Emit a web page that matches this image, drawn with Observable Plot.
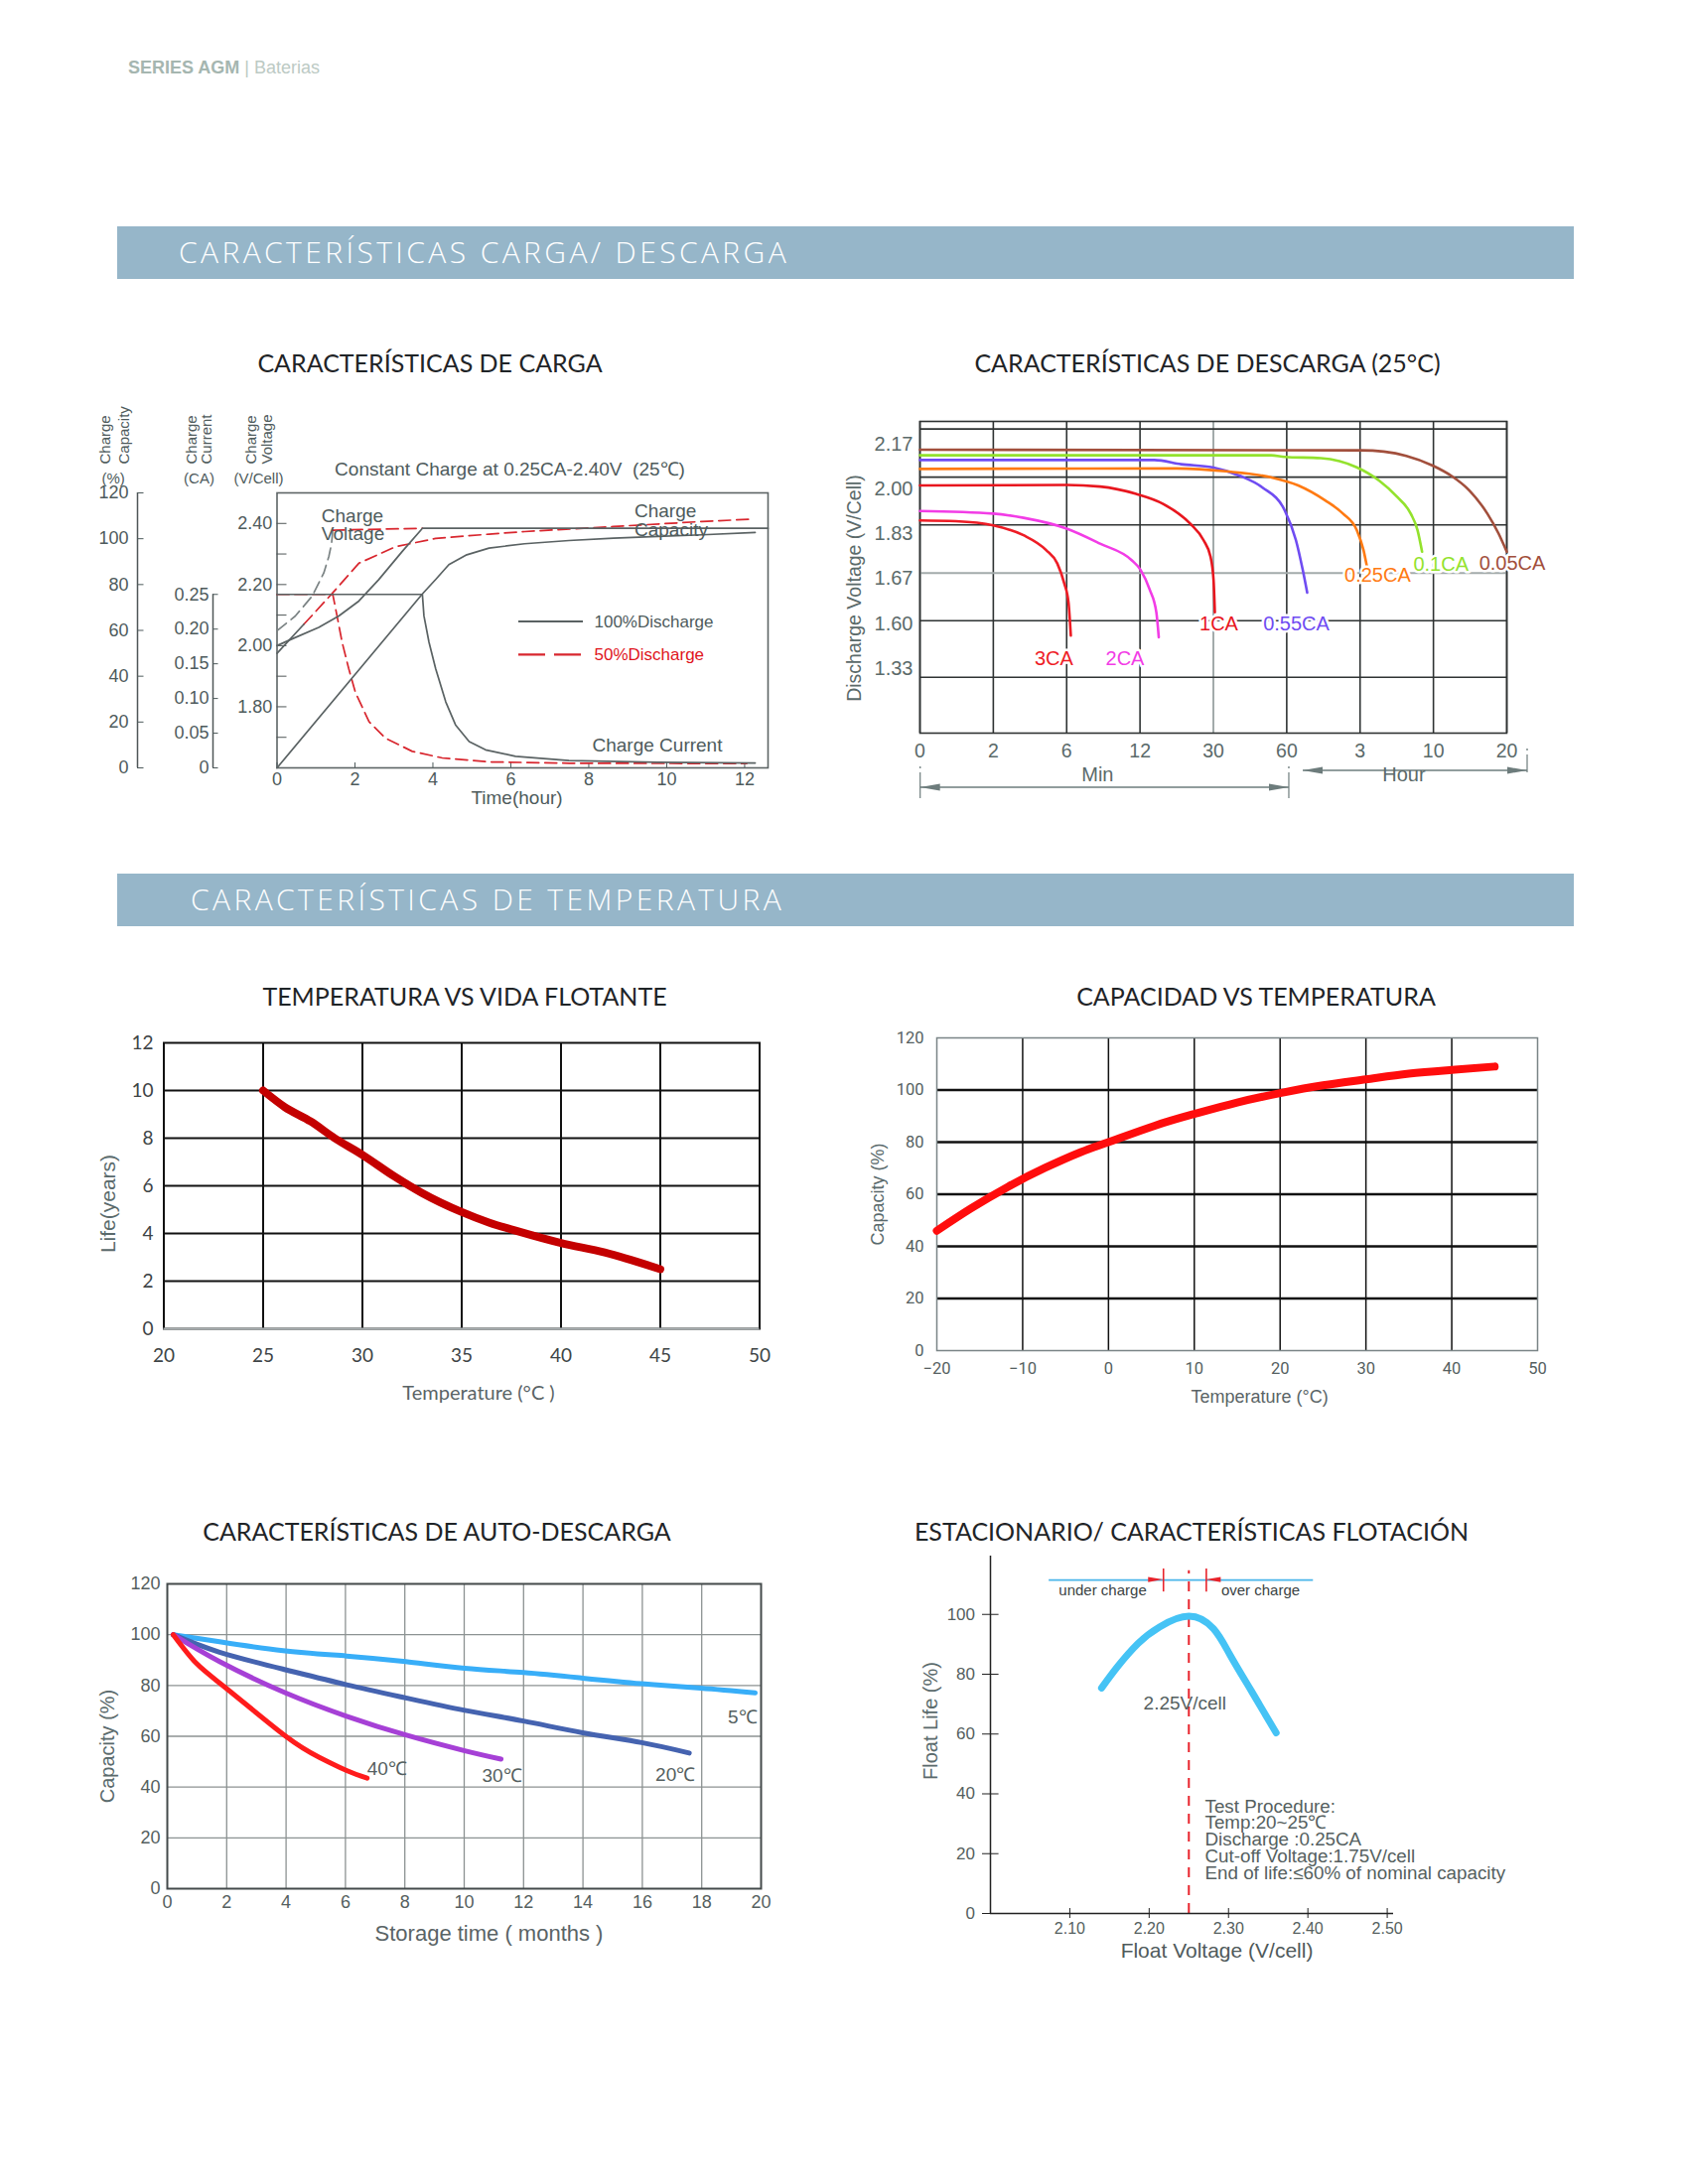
<!DOCTYPE html>
<html lang="es">
<head>
<meta charset="utf-8">
<script src="https://cdn.jsdelivr.net/npm/d3@7"></script>
<script src="https://cdn.jsdelivr.net/npm/@observablehq/plot@0.6"></script>
<style>
  html, body { margin: 0; padding: 0; background: #fff; }
  #page { position: relative; width: 1700px; height: 2200px; background: #fff; overflow: hidden; }
  .bar { position: absolute; left: 118px; width: 1467px; height: 53px; background: #96b6c9; }
</style>
</head>
<body>
<div id="page"></div>
<script>
// ======================= DATA =======================
const pageHeader = ["SERIES AGM", "| Baterias"];
const sectionHeaders = ["CARACTERÍSTICAS CARGA/ DESCARGA", "CARACTERÍSTICAS DE TEMPERATURA"];
const chartTitles = [
  "CARACTERÍSTICAS DE CARGA",
  "CARACTERÍSTICAS DE DESCARGA (25°C)",
  "TEMPERATURA VS VIDA FLOTANTE",
  "CAPACIDAD VS TEMPERATURA",
  "CARACTERÍSTICAS DE AUTO-DESCARGA",
  "ESTACIONARIO/ CARACTERÍSTICAS FLOTACIÓN"
];

// --- Charge characteristics (time in hours) ---
const chargeTimeTicks = [0, 2, 4, 6, 8, 10, 12];
const chargeTimeDomain = [0, 12.6];
const capacityTicks = [0, 20, 40, 60, 80, 100, 120];
const currentTicks = [0, 0.05, 0.10, 0.15, 0.20, 0.25];
const voltageTicks = [1.7, 1.8, 1.9, 2.0, 2.1, 2.2, 2.3, 2.4];
const voltageLabelled = [1.8, 2.0, 2.2, 2.4];
const chargeLegend = ["100%Discharge", "50%Discharge"];
const chargeNotes = ["Constant Charge at 0.25CA-2.40V\u00a0 (25℃)", "Charge", "Voltage", "Capacity", "Charge Current", "Time(hour)"];

const v100Hours = [0, 0.385, 1.07, 1.585, 2.10, 2.61, 3.21, 3.73, 12.6];
const v100Volts = [2.00, 2.022, 2.060, 2.097, 2.146, 2.216, 2.308, 2.384, 2.384];
const v50Hours  = [0, 0.47, 0.90, 1.20, 1.33, 1.40, 1.43, 3.73];
const v50Volts  = [2.049, 2.097, 2.162, 2.238, 2.292, 2.335, 2.378, 2.384];
const cap100Hours = [0, 3.73, 4.07, 4.41, 4.87, 5.44, 6.35, 7.49, 8.63, 9.77, 10.9, 12.27];
const cap100Pct   = [0, 75.9, 82.2, 88.7, 93.0, 95.9, 97.8, 99.2, 100.2, 101.0, 101.7, 102.7];
const cap50Hours  = [0, 0.69, 1.0, 1.43, 2.10, 3.04, 4.07, 5.44, 6.35, 8.63, 10.9, 12.16];
const cap50Pct    = [50, 62.7, 68.4, 76.4, 89.3, 96.5, 100.1, 102.0, 103.1, 105.3, 107.5, 108.5];
const cur100Hours = [0, 3.73, 3.77, 3.90, 4.07, 4.33, 4.58, 4.93, 5.35, 6.12, 7.49, 9.77, 12.27];
const cur100CA    = [0.25, 0.25, 0.219, 0.181, 0.143, 0.095, 0.062, 0.038, 0.026, 0.0167, 0.0105, 0.0081, 0.0071];
const cur50Hours  = [0, 1.43, 1.54, 1.67, 1.84, 2.01, 2.36, 2.78, 3.47, 4.24, 5.44, 7.5, 12.05];
const cur50CA     = [0.25, 0.25, 0.219, 0.181, 0.143, 0.109, 0.0666, 0.043, 0.0238, 0.0143, 0.0086, 0.0067, 0.0062];

// --- Discharge characteristics (time in minutes, volts per cell) ---
const dischargeRates = ["3CA", "2CA", "1CA", "0.55CA", "0.25CA", "0.1CA", "0.05CA"];
const dischargeMinutes = [
  [0, 0.98, 2, 3.65, 4.88, 5.49, 5.86, 6.15, 6.34],
  [0, 2, 3.65, 6, 8.73, 11.31, 12.14, 14.35, 16.0, 16.6],
  [0, 6, 8.73, 11.68, 17.67, 24.3, 27.6, 29.3, 30.06, 30.6],
  [0, 15.5, 22.1, 29.8, 40.8, 50, 59.2, 75.1, 86.2, 93.5],
  [0, 21, 35.2, 53.6, 78.8, 123, 152, 174.6, 199.7, 217.7],
  [0, 53.6, 59.2, 115.7, 174.6, 290, 393, 470, 509, 535],
  [0, 186.7, 315.7, 444.6, 599, 746, 894, 1041, 1133, 1200]
];
const dischargeVolts = [
  [1.880, 1.877, 1.861, 1.824, 1.771, 1.723, 1.663, 1.633, 1.53],
  [1.916, 1.906, 1.890, 1.849, 1.794, 1.735, 1.700, 1.653, 1.618, 1.52],
  [2.013, 2.015, 2.009, 1.981, 1.943, 1.868, 1.806, 1.747, 1.668, 1.618],
  [2.110, 2.110, 2.094, 2.082, 2.050, 2.006, 1.918, 1.806, 1.700, 1.648],
  [2.076, 2.078, 2.067, 2.044, 2.013, 1.956, 1.906, 1.843, 1.771, 1.717],
  [2.128, 2.128, 2.122, 2.117, 2.082, 2.031, 1.969, 1.906, 1.843, 1.765],
  [2.149, 2.147, 2.142, 2.126, 2.088, 2.050, 1.994, 1.906, 1.830, 1.765]
];
const dischargeXTicks = [0, 2, 6, 12, 30, 60, 180, 600, 1200];
const dischargeXTickLabels = ["0", "2", "6", "12", "30", "60", "3", "10", "20"];
const dischargeYTicks = [2.17, 2.00, 1.83, 1.67, 1.60, 1.33];
const dischargeYEnds = [2.26, 0.95];
const dischargeYGrid = [2.23, 2.045, 1.863, 1.605, 1.279];
const dischargeYGridLight = [1.689];
const dischargeXGridLight = [30];
const dischargeMinSpan = [0, 60];
const dischargeHourSpan = [60, 1200];
const dischargeAxisWords = ["Min", "Hour", "Discharge Voltage (V/Cell)"];

// --- Temperature vs float life ---
const lifeTemps = [25, 26.1, 27.4, 28.6, 30, 31.6, 33, 35, 36.4, 37.8, 40, 42.2, 45];
const lifeYears = [10, 9.3, 8.7, 8.0, 7.3, 6.4, 5.7, 4.9, 4.45, 4.1, 3.6, 3.2, 2.5];
const lifeXTicks = [20, 25, 30, 35, 40, 45, 50];
const lifeYTicks = [0, 2, 4, 6, 8, 10, 12];

// --- Capacity vs temperature ---
const capTemps = [-20, -16, -11.7, -7.4, -3.2, 0, 5.4, 10, 15, 20, 25, 30, 35, 40, 45];
const capPct   = [46, 54.6, 62.9, 70.1, 76.2, 80, 86.3, 90.8, 95.2, 98.8, 101.8, 104.1, 106.3, 107.7, 109];
const capXTicks = [-20, -10, 0, 10, 20, 30, 40, 50];
const capYTicks = [0, 20, 40, 60, 80, 100, 120];

// --- Self discharge ---
const storageLabels = ["5℃", "20℃", "30℃", "40℃"];
const storageMonths = [
  [0.2, 1.76, 3.9, 6.04, 8.03, 10.02, 12.0, 13.99, 15.98, 17.97, 19.8],
  [0.2, 1.76, 3.98, 6.04, 8.03, 10.02, 12.0, 13.99, 15.98, 17.58],
  [0.2, 1.76, 3.98, 6.04, 8.03, 10.02, 11.24],
  [0.2, 0.99, 2.06, 3.98, 5.12, 6.04, 6.73]
];
const storageCapacity = [
  [100, 97.2, 93.7, 91.6, 89.4, 86.8, 85.1, 82.9, 80.7, 79.0, 77.1],
  [100, 93.1, 86.2, 80.3, 75.1, 70.2, 66.0, 61.4, 57.5, 53.4],
  [100, 89.4, 77.1, 67.9, 60.5, 54.3, 51.0],
  [100, 88.6, 78.2, 60.1, 51.7, 46.5, 43.5]
];
const storageXTicks = [0, 2, 4, 6, 8, 10, 12, 14, 16, 18, 20];
const storageYTicks = [0, 20, 40, 60, 80, 100, 120];

// --- Float characteristics ---
const floatVolts = [2.14, 2.16, 2.186, 2.213, 2.25, 2.281, 2.302, 2.329, 2.36];
const floatLife  = [75.4, 82.5, 90.3, 95.8, 99.4, 95.2, 86.4, 74.3, 60.4];
const floatXTicks = [2.10, 2.20, 2.30, 2.40, 2.50];
const floatYTicks = [0, 20, 40, 60, 80, 100];
const floatOptimum = 2.25;
const floatWindow = [2.218, 2.272];
const floatBand = [2.074, 2.407];
const floatBandLevel = 111.5;
const floatNotes = ["under charge", "over charge", "2.25V/cell",
  "Test Procedure:\nTemp:20~25℃\nDischarge :0.25CA\nCut-off Voltage:1.75V/cell\nEnd of life:≤60% of nominal capacity"];

// ======================= HELPERS =======================
const page = document.getElementById("page");
const SANS = "'Liberation Sans', Arial, sans-serif";
const LATO = "Lato, 'Noto Sans', sans-serif";

function htmlText(txt, x, y, css, anchor = "middle") {
  const d = document.createElement("div");
  d.textContent = txt;
  Object.assign(d.style, {
    position: "absolute", left: x + "px", top: y + "px", whiteSpace: "nowrap", lineHeight: "1",
    transform: anchor === "middle" ? "translate(-50%,-50%)" : "translate(0,-50%)"
  }, css);
  page.appendChild(d);
  return d;
}
function place(svg, left, top) {
  svg.style.position = "absolute";
  svg.style.left = left + "px";
  svg.style.top = top + "px";
  svg.style.maxWidth = "none";
  svg.style.overflow = "visible";
  page.appendChild(svg);
}
const rowsOf = (xs, ys, f = d => d) => xs.map((x, i) => ({x, y: f(ys[i])}));
// centred label helpers (frame-anchored axis titles)
const bottomLabel = (t, dx, dy, o) => Plot.text([t], {frameAnchor: "bottom", dx, dy, textAnchor: "middle", lineAnchor: "middle", ...o});
const leftLabel = (t, dx, dy, o) => Plot.text([t], {frameAnchor: "left", rotate: -90, dx, dy, textAnchor: "middle", lineAnchor: "middle", ...o});

// ======================= PAGE DECOR =======================
(() => {
  const d = document.createElement("div");
  Object.assign(d.style, {position: "absolute", left: "129px", top: "68px", transform: "translateY(-50%)",
    fontFamily: SANS, fontSize: "18px", lineHeight: "1", whiteSpace: "nowrap"});
  const a = document.createElement("span"); a.textContent = pageHeader[0];
  Object.assign(a.style, {fontWeight: "700", color: "#a5b6b0"});
  const b = document.createElement("span"); b.textContent = " " + pageHeader[1];
  Object.assign(b.style, {fontWeight: "400", color: "#bccac4"});
  d.append(a, b); page.appendChild(d);
})();

[[228, 180], [880, 192]].forEach(([top, tx], i) => {
  const bar = document.createElement("div");
  bar.className = "bar"; bar.style.top = top + "px";
  page.appendChild(bar);
  htmlText(sectionHeaders[i], tx, top + 26, {color: "#fff", fontFamily: "'Open Sans', " + LATO,
    fontWeight: "300", fontSize: "30px", letterSpacing: "3.4px"}, "start");
});

[[433, 365], [1216, 365], [468, 1003], [1265, 1003], [440, 1542], [1200, 1542]].forEach(([x, y], i) => {
  htmlText(chartTitles[i], x, y, {fontFamily: LATO, fontSize: "25px", color: "#1f2427"});
});

// ======================= CHART 1: CHARGE =======================
(() => {
  const TXT = "#4e5b5c", AX = "#4f5657", GREY = "#5a6263", RED = "#d8262e";
  const L = {left: 60, top: 390, width: 730, height: 430, ml: 218.5, mr: 17, mt: 106, mb: 47};
  const fx = L.left + L.ml, fy = L.top + L.mt;
  const V2U = v => (v - 1.6) / 0.9 * 120;
  const C2U = c => c * 302.8;
  const ann = (t, px, py, o = {}) => Plot.text([t], {frameAnchor: "top-left", dx: px - fx, dy: py - fy,
    textAnchor: "start", lineAnchor: "middle", fill: TXT, fontSize: 19, ...o});
  const rot = (t, px) => ann(t, px, 467, {rotate: -90, fontSize: 15});
  const par = (t, px) => ann(t, px, 482, {textAnchor: "middle", fontSize: 15});

  const cap50 = rowsOf(cap50Hours, cap50Pct);
  const v50 = rowsOf(v50Hours, v50Volts, V2U);
  const solid = {x: "x", y: "y", stroke: GREY, strokeWidth: 1.7};
  const dashed = {x: "x", y: "y", stroke: RED, strokeWidth: 1.7, strokeDasharray: "12,6"};

  const legendSwatch = (index, scales, values, dims) => {
    const g = d3.create("svg:g");
    [[130, GREY, null], [163.3, RED, "27,9"]].forEach(([yy, col, dash]) => {
      g.append("line").attr("x1", dims.marginLeft + 243.5).attr("x2", dims.marginLeft + 308.5)
        .attr("y1", dims.marginTop + yy).attr("y2", dims.marginTop + yy)
        .attr("stroke", col).attr("stroke-width", 2.2).attr("stroke-dasharray", dash);
    });
    return g.node();
  };

  const svg = Plot.plot({
    width: L.width, height: L.height,
    marginLeft: L.ml, marginRight: L.mr, marginTop: L.mt, marginBottom: L.mb,
    x: {domain: chargeTimeDomain},
    y: {domain: [0, 120]},
    style: {fontFamily: SANS, fontSize: "18px", color: TXT, background: "transparent", overflow: "visible"},
    marks: [
      Plot.frame({stroke: "#5d6465", strokeWidth: 1.6}),
      Plot.ruleX([0], {y1: 0, y2: 120, dx: 138 - fx, stroke: AX, strokeWidth: 1.5}),
      Plot.axisY(capacityTicks, {dx: 138 - fx, tickSize: -6.5, tickPadding: 15.5, label: null, color: TXT, fontSize: 18}),
      Plot.ruleX([0], {y1: 0, y2: C2U(0.25), dx: 214 - fx, stroke: AX, strokeWidth: 1.5}),
      Plot.axisY(currentTicks.map(C2U), {dx: 214 - fx, tickSize: -5.5, tickPadding: 9.5, label: null, color: TXT, fontSize: 18,
        tickFormat: d => { const c = d / 302.8; return c < 1e-6 ? "0" : c.toFixed(2); }}),
      Plot.axisY(voltageTicks.map(V2U), {tickSize: -10, tickFormat: () => "", label: null, color: AX}),
      Plot.axisY(voltageLabelled.map(V2U), {tickSize: 0, tickPadding: 4.7, label: null, color: TXT, fontSize: 18,
        tickFormat: d => (d / 120 * 0.9 + 1.6).toFixed(2)}),
      Plot.axisX(chargeTimeTicks, {tickSize: -5, tickPadding: 10, label: null, color: TXT, fontSize: 18}),
      // 50% discharge curves
      Plot.line(rowsOf(cur50Hours, cur50CA, C2U), dashed),
      Plot.line(cap50.slice(1), dashed),
      Plot.line(cap50.slice(0, 2), solid),
      Plot.line(v50.slice(0, 7), {...dashed, stroke: "#7b8384"}),
      Plot.line(v50.slice(6), dashed),
      // 100% discharge curves
      Plot.line(rowsOf(cur100Hours, cur100CA, C2U), solid),
      Plot.line(rowsOf(cap100Hours, cap100Pct), solid),
      Plot.line(rowsOf(v100Hours, v100Volts, V2U), solid),
      // annotations
      ann(chargeNotes[0], 336.6, 472),
      ann(chargeNotes[1], 323.3, 519.2), ann(chargeNotes[2], 323.3, 537.8),
      ann(chargeNotes[1], 638.5, 514), ann(chargeNotes[3], 638.5, 533),
      ann(chargeNotes[4], 596, 750),
      ann(chargeNotes[5], 520, 803, {textAnchor: "middle"}),
      legendSwatch,
      ann(chargeLegend[0], 598, 626, {fontSize: 17}),
      ann(chargeLegend[1], 598, 659.3, {fontSize: 17, fill: "#e0141c"}),
      rot("Charge", 106), rot("Capacity", 125), par("(%)", 113.6),
      rot("Charge", 193), rot("Current", 208), par("(CA)", 200),
      rot("Charge", 252.7), rot("Voltage", 268.4), par("(V/Cell)", 260)
    ]
  });
  place(svg, L.left, L.top);
})();

// ======================= CHART 2: DISCHARGE =======================
(() => {
  const TXT = "#5b6a6a", DARK = "#2f3333", LIGHT = "#a3abab", ARW = "#6d7c7c";
  const colors = ["#ee1c25", "#f23ce6", "#e8161e", "#6f4cf2", "#ff7a12", "#93e22d", "#a24f3c"];
  const labelOffsets = [[-17, 23], [-34, 22], [4, 12], [-11, 32], [11, 10], [19, 13], [5.5, 12]];
  const L = {left: 840, top: 400, width: 727, height: 420, ml: 86, mr: 50, mt: 24, mb: 82};
  const innerW = L.width - L.ml - L.mr;
  const xRange = dischargeXTicks.map((_, i) => L.ml + i * innerW / (dischargeXTicks.length - 1));
  const yDomain = [dischargeYEnds[0], ...dischargeYTicks, dischargeYEnds[1]];
  const yRange = [24, 47, 92, 137, 182, 228, 273, 338];
  const rows = dischargeRates.flatMap((r, i) => dischargeMinutes[i].map((m, j) => ({rate: r, t: m, v: dischargeVolts[i][j]})));

  const arrows = (index, scales, values, dims) => {
    const x = scales.x;
    const yb = dims.height - dims.marginBottom;
    const g = d3.create("svg:g");
    const arrow = (xa, xb, y) => {
      g.append("line").attr("x1", xa).attr("x2", xb).attr("y1", y).attr("y2", y).attr("stroke", ARW).attr("stroke-width", 1.6);
      g.append("path").attr("d", `M${xa},${y}L${xa + 20},${y - 3.4}L${xa + 20},${y + 3.4}Z`).attr("fill", ARW);
      g.append("path").attr("d", `M${xb},${y}L${xb - 20},${y - 3.4}L${xb - 20},${y + 3.4}Z`).attr("fill", ARW);
    };
    const vt = (xx, y1, y2) => {
      g.append("line").attr("x1", xx).attr("x2", xx).attr("y1", y1).attr("y2", y2).attr("stroke", ARW).attr("stroke-width", 1.2);
      g.append("circle").attr("cx", xx).attr("cy", y1 - 5).attr("r", 0.9).attr("fill", ARW);
    };
    const m0 = x(dischargeMinSpan[0]) + 0.7, m1 = x(dischargeMinSpan[1]) + 2.6;
    const h0 = x(dischargeHourSpan[0]) + 16.6, h1 = x(dischargeHourSpan[1]) + 21;
    arrow(m0, m1, yb + 55);
    arrow(h0, h1, yb + 38);
    vt(m0, yb + 40, yb + 66); vt(m1, yb + 40, yb + 66); vt(h1, yb + 22, yb + 40);
    const lab = (t, xx) => g.append("text").attr("x", xx).attr("y", yb + 42).attr("dy", "0.35em")
      .attr("text-anchor", "middle").attr("fill", TXT).attr("font-size", 20).attr("font-family", SANS).text(t);
    lab(dischargeAxisWords[0], (m0 + m1) / 2 - 7);
    lab(dischargeAxisWords[1], (h0 + h1) / 2 - 11);
    return g.node();
  };

  const svg = Plot.plot({
    width: L.width, height: L.height,
    marginLeft: L.ml, marginRight: L.mr, marginTop: L.mt, marginBottom: L.mb,
    x: {type: "linear", domain: dischargeXTicks, range: xRange},
    y: {type: "linear", domain: yDomain, range: yRange},
    color: {domain: dischargeRates, range: colors},
    style: {fontFamily: SANS, fontSize: "19px", color: TXT, background: "transparent", overflow: "visible"},
    marks: [
      Plot.ruleX(dischargeXTicks.filter(d => !dischargeXGridLight.includes(d)), {stroke: DARK, strokeWidth: 1.6}),
      Plot.ruleX(dischargeXGridLight, {stroke: LIGHT, strokeWidth: 2}),
      Plot.ruleY(dischargeYGrid, {stroke: DARK, strokeWidth: 1.6}),
      Plot.ruleY(dischargeYGridLight, {stroke: LIGHT, strokeWidth: 2}),
      Plot.frame({stroke: DARK, strokeWidth: 1.6}),
      Plot.line(rows, {x: "t", y: "v", z: "rate", stroke: "rate", strokeWidth: 2.6, curve: "monotone-x"}),
      ...dischargeRates.map((r, i) => Plot.text(rows.filter(d => d.rate === r), Plot.selectLast({
        x: "t", y: "v", text: () => r, fill: colors[i], dx: labelOffsets[i][0], dy: labelOffsets[i][1],
        fontSize: 20, stroke: "white", strokeWidth: 5, paintOrder: "stroke"}))),
      Plot.axisY(dischargeYTicks, {tickSize: 0, tickPadding: 7, tickFormat: d => d.toFixed(2), label: null, color: TXT, fontSize: 20}),
      Plot.axisX(dischargeXTicks, {tickSize: 0, tickPadding: 11, label: null, color: TXT, fontSize: 19.5,
        tickFormat: d => dischargeXTickLabels[dischargeXTicks.indexOf(d)]}),
      leftLabel(dischargeAxisWords[2], -66, 11, {fontSize: 19.5, fill: TXT}),
      arrows
    ]
  });
  place(svg, L.left, L.top);
})();

// ======================= CHART 3: TEMPERATURE VS LIFE =======================
(() => {
  const TXT = "#3e4446";
  const svg = Plot.plot({
    width: 720, height: 390, marginLeft: 84.5, marginRight: 35.5, marginTop: 20, marginBottom: 82,
    x: {domain: [lifeXTicks[0], lifeXTicks[lifeXTicks.length - 1]]},
    y: {domain: [lifeYTicks[0], lifeYTicks[lifeYTicks.length - 1]]},
    style: {fontFamily: LATO, fontSize: "19px", color: TXT, background: "transparent", overflow: "visible"},
    marks: [
      Plot.ruleX(lifeXTicks.slice(1, -1), {stroke: "#111", strokeWidth: 2}),
      Plot.ruleY(lifeYTicks.slice(1, -1), {stroke: "#111", strokeWidth: 2}),
      Plot.frame({stroke: "#111", strokeWidth: 2}),
      Plot.ruleY([0], {stroke: "#a9b0b2", strokeWidth: 2.2}),
      Plot.line(rowsOf(lifeTemps, lifeYears), {x: "x", y: "y", stroke: "#c40000", strokeWidth: 8, curve: "monotone-x"}),
      Plot.axisX(lifeXTicks, {tickSize: 0, tickPadding: 20, label: null, color: TXT, fontSize: 19}),
      Plot.axisY(lifeYTicks, {tickSize: 0, tickPadding: 10.5, label: null, color: TXT, fontSize: 19}),
      bottomLabel("Temperature (°C )", 17, 65, {fontSize: 20, fill: "#5a6466"}),
      leftLabel("Life(years)", -56, 18, {fontSize: 21, fill: "#5a6a6c", fontFamily: SANS})
    ]
  });
  place(svg, 80, 1030);
})();

// ======================= CHART 4: CAPACITY VS TEMPERATURE =======================
(() => {
  const TXT = "#555f61";
  const svg = Plot.plot({
    width: 730, height: 400, marginLeft: 103, marginRight: 22, marginTop: 20, marginBottom: 65,
    x: {domain: [capXTicks[0], capXTicks[capXTicks.length - 1]]},
    y: {domain: [capYTicks[0], capYTicks[capYTicks.length - 1]]},
    style: {fontFamily: "Roboto, " + SANS, fontSize: "16.5px", color: TXT, background: "transparent", overflow: "visible"},
    marks: [
      Plot.ruleX(capXTicks.slice(1, -1), {stroke: "#111", strokeWidth: 1.5}),
      Plot.ruleY(capYTicks.slice(1, -1), {stroke: "#111", strokeWidth: 2.5}),
      Plot.frame({stroke: "#7a8486", strokeWidth: 1.5}),
      Plot.line(rowsOf(capTemps, capPct), {x: "x", y: "y", stroke: "#ff0d0d", strokeWidth: 8, curve: "natural"}),
      Plot.axisX(capXTicks, {tickSize: 0, tickPadding: 12, label: null, color: TXT, fontSize: 16.5}),
      Plot.axisY(capYTicks, {tickSize: 0, tickPadding: 13, label: null, color: TXT, fontSize: 16.5}),
      bottomLabel("Temperature (°C)", 22.5, 47, {fontSize: 18, fill: "#5a6466", fontFamily: SANS}),
      leftLabel("Capacity (%)", -59, 0, {fontSize: 18, fill: "#5a6a6c", fontFamily: SANS})
    ]
  });
  place(svg, 840, 1025);
})();

// ======================= CHART 5: SELF DISCHARGE =======================
(() => {
  const TXT = "#555f60";
  const colors = ["#38aef8", "#4563b0", "#a640d6", "#ff1c1c"];
  const offsets = [[2, 25, "end"], [-14, 22, "middle"], [1, 17, "middle"], [20, -9, "middle"]];
  const rows = storageLabels.flatMap((s, i) => storageMonths[i].map((m, j) => ({series: s, m, c: storageCapacity[i][j]})));
  const svg = Plot.plot({
    width: 720, height: 395, marginLeft: 88, marginRight: 34, marginTop: 20, marginBottom: 68,
    x: {domain: [storageXTicks[0], storageXTicks[storageXTicks.length - 1]]},
    y: {domain: [storageYTicks[0], storageYTicks[storageYTicks.length - 1]]},
    color: {domain: storageLabels, range: colors},
    style: {fontFamily: SANS, fontSize: "18px", color: TXT, background: "transparent", overflow: "visible"},
    marks: [
      Plot.ruleX(storageXTicks.slice(1, -1), {stroke: "#8c9292", strokeWidth: 1.3}),
      Plot.ruleY(storageYTicks.slice(1, -1), {stroke: "#8c9292", strokeWidth: 1.3}),
      Plot.frame({stroke: "#444a4b", strokeWidth: 2}),
      Plot.line(rows, {x: "m", y: "c", z: "series", stroke: "series", strokeWidth: 5, curve: "natural"}),
      ...storageLabels.map((s, i) => Plot.text(rows.filter(d => d.series === s), Plot.selectLast({
        x: "m", y: "c", text: () => s, dx: offsets[i][0], dy: offsets[i][1], textAnchor: offsets[i][2], fill: TXT, fontSize: 19}))),
      Plot.axisX(storageXTicks, {tickSize: 0, tickPadding: 7, label: null, color: TXT, fontSize: 18}),
      Plot.axisY(storageYTicks, {tickSize: 0, tickPadding: 7, label: null, color: TXT, fontSize: 18}),
      bottomLabel("Storage time ( months )", 25, 45, {fontSize: 22, fill: "#5a6466"}),
      leftLabel("Capacity (%)", -60, 10, {fontSize: 20, fill: "#5a6a6c"})
    ]
  });
  place(svg, 80, 1575);
})();

// ======================= CHART 6: FLOAT =======================
(() => {
  const TXT = "#555f60", RED = "#e8232b", BLUE = "#4ab5ea";
  const heads = (index, scales) => {
    const x = scales.x, y = scales.y;
    const g = d3.create("svg:g").attr("fill", RED);
    const yy = y(floatBandLevel);
    const a = x(floatWindow[0]), b = x(floatWindow[1]);
    g.append("path").attr("d", `M${a},${yy}L${a - 15},${yy - 2.6}L${a - 15},${yy + 2.6}Z`);
    g.append("path").attr("d", `M${b},${yy}L${b + 15},${yy - 2.6}L${b + 15},${yy + 2.6}Z`);
    return g.node();
  };
  const svg = Plot.plot({
    width: 650, height: 420, marginLeft: 117, marginRight: 127, marginTop: 7, marginBottom: 53,
    x: {domain: [2.0, 2.508]},
    y: {domain: [0, 119.5]},
    style: {fontFamily: SANS, fontSize: "16px", color: TXT, background: "transparent", overflow: "visible"},
    marks: [
      Plot.ruleX([floatOptimum], {y1: 0, y2: 114.6, stroke: RED, strokeWidth: 2, strokeDasharray: "10,8"}),
      Plot.ruleY([floatBandLevel], {x1: floatBand[0], x2: floatBand[1], stroke: BLUE, strokeWidth: 1.6}),
      Plot.ruleX(floatWindow, {y1: 107.5, y2: 115.2, stroke: RED, strokeWidth: 1.6}),
      heads,
      Plot.line(rowsOf(floatVolts, floatLife), {x: "x", y: "y", stroke: "#45c3f5", strokeWidth: 7, curve: "natural"}),
      Plot.ruleX([2.0], {stroke: "#222", strokeWidth: 1.5}),
      Plot.ruleY([0], {stroke: "#222", strokeWidth: 1.5}),
      Plot.axisX(floatXTicks, {tickSize: 5, tickPadding: 4.5, label: null, color: TXT, stroke: "#222", fontSize: 16, tickFormat: d => d.toFixed(2)}),
      Plot.axisX(floatXTicks, {tickSize: -5, tickFormat: () => "", label: null, stroke: "#222"}),
      Plot.axisY(floatYTicks, {tickSize: 8, tickPadding: 7.5, label: null, color: TXT, stroke: "#222", fontSize: 17}),
      Plot.axisY(floatYTicks, {tickSize: -8.6, tickFormat: () => "", label: null, stroke: "#222"}),
      Plot.text([floatNotes[0]], {x: [floatWindow[0]], y: [floatBandLevel], dx: -17, dy: 11, textAnchor: "end", fontSize: 15, fill: "#3b4344"}),
      Plot.text([floatNotes[1]], {x: [floatWindow[1]], y: [floatBandLevel], dx: 15, dy: 11, textAnchor: "start", fontSize: 15, fill: "#3b4344"}),
      Plot.text([floatNotes[2]], {x: [floatOptimum], frameAnchor: "top", dx: -4, dy: 148, lineAnchor: "middle", textAnchor: "middle", fontSize: 19, fill: TXT}),
      Plot.text([floatNotes[3]], {frameAnchor: "top-left", dx: 216, dy: 246, textAnchor: "start", lineAnchor: "top",
        lineHeight: 0.9, fontSize: 18.8, fill: TXT}),
      bottomLabel("Float Voltage (V/cell)", 25, 38, {fontSize: 21, fill: "#4f5a5b"}),
      leftLabel("Float Life (%)", -60, -14, {fontSize: 20, fill: "#5a6a6c"})
    ]
  });
  place(svg, 880, 1560);
})();
</script>
</body>
</html>
